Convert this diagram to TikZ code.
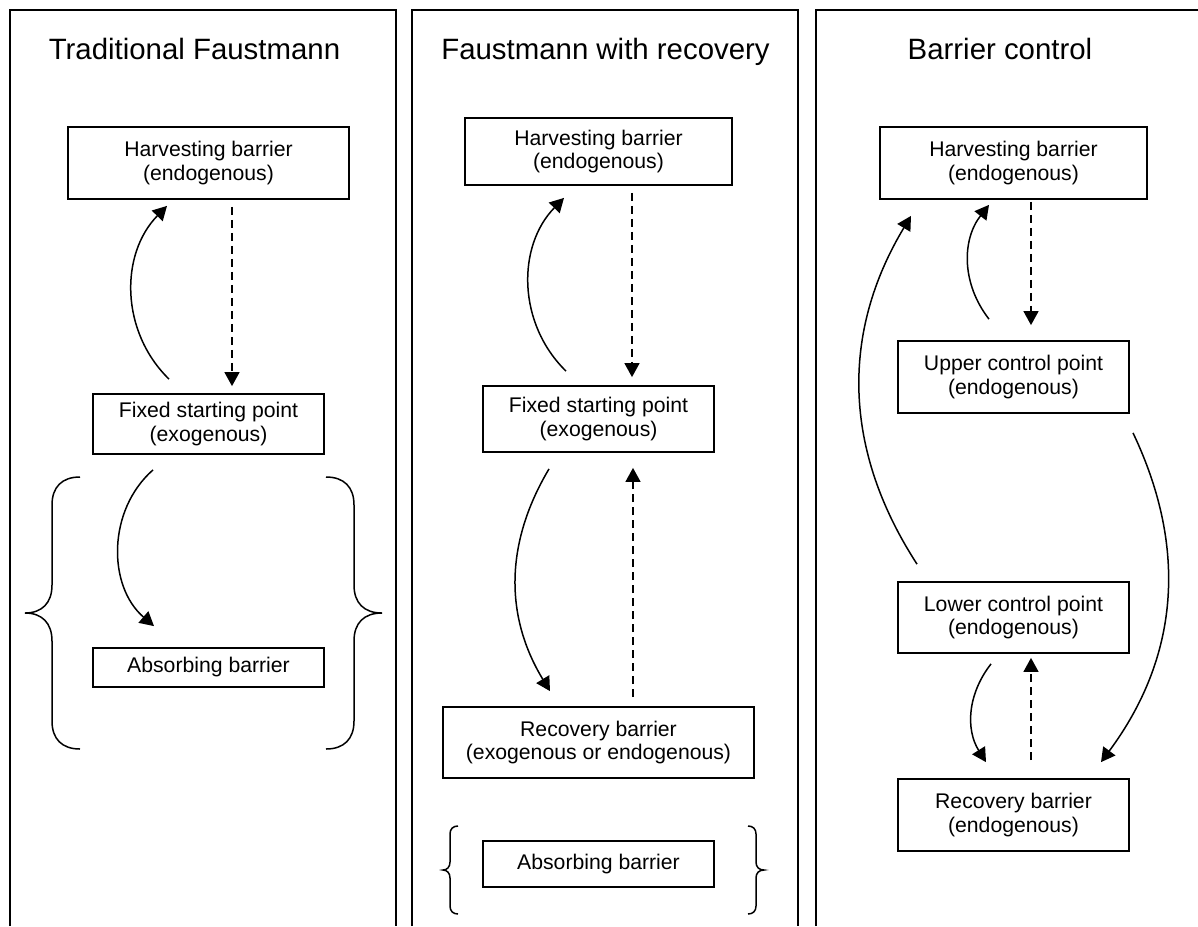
\documentclass[tikz,border=0pt]{standalone}
\usepackage{fontspec}
\setmainfont{Liberation Sans}
\usetikzlibrary{arrows.meta}

\begin{document}
\begin{tikzpicture}[x=0.5pt,y=-0.5pt,>={Triangle[length=7pt,width=7.5pt]},
  barrier node/.style={draw,line width=0.9pt,inner sep=0pt,align=center,
    font=\fontsize{10.6}{11.8}\selectfont},
  title node/.style={anchor=base,font=\fontsize{14.7}{17}\selectfont},
  panel line/.style={line width=1pt},
  brace line/.style={line width=0.75pt},
  flow/.style={->,line width=0.75pt},
  jump/.style={->,line width=0.75pt,dash pattern=on 4pt off 2.5pt}]

  \useasboundingbox (0,0) rectangle (1198,926);

  % panels
  \draw[panel line] (10,926) -- (10,10) -- (396,10) -- (396,926);
  \draw[panel line] (412,926) -- (412,10) -- (798,10) -- (798,926);
  \draw[panel line] (816,926) -- (816,10) -- (1200,10);

  \node[title node] (t1) at (194.5,59) {Traditional Faustmann};
  \node[title node] (t2) at (605.5,59) {Faustmann with recovery};
  \node[title node] (t3) at (1000,59) {Barrier control};

  % traditional Faustmann
  \node[barrier node,minimum width=140.5pt,minimum height=36pt] (h1) at (208.5,163) {Harvesting barrier\\(endogenous)};
  \node[barrier node,minimum width=115.5pt,minimum height=30pt] (f1) at (208.5,424) {Fixed starting point\\(exogenous)};
  \node[barrier node,minimum width=115.5pt,minimum height=19.5pt] (a1) at (208.5,667.5) {Absorbing barrier};

  \draw[flow] ([shift={(-39.5,-14)}]f1.north) to[bend left=45] ([shift={(-41.5,6)}]h1.south);
  \draw[jump] ([shift={(23.5,7)}]h1.south) -- ([shift={(23.5,-7)}]f1.north);
  \draw[flow] ([shift={(-55.5,15)}]f1.south) to[bend right=49] ([shift={(-54.5,-21)}]a1.north);

  \draw[brace line] (80,477) .. controls (62,477) and (52,487) .. (52,505) -- (52,585)
    .. controls (52,603) and (42,613) .. (25,613) .. controls (42,613) and (52,623) .. (52,641)
    -- (52,721) .. controls (52,739) and (62,749) .. (80,749);
  \draw[brace line] (326,477) .. controls (344,477) and (354,487) .. (354,505) -- (354,585)
    .. controls (354,603) and (364,613) .. (382,613) .. controls (364,613) and (354,623) .. (354,641)
    -- (354,721) .. controls (354,739) and (344,749) .. (326,749);

  % Faustmann with recovery
  \node[barrier node,minimum width=133.5pt,minimum height=33.5pt] (h2) at (598.5,151.5) {Harvesting barrier\\(endogenous)};
  \node[barrier node,minimum width=115.5pt,minimum height=33pt] (f2) at (598.5,419) {Fixed starting point\\(exogenous)};
  \node[barrier node,minimum width=155.5pt,minimum height=35.5pt] (r2) at (598.5,742.5) {Recovery barrier\\(exogenous or endogenous)};
  \node[barrier node,minimum width=115.5pt,minimum height=23pt] (a2) at (598.5,864) {Absorbing barrier};

  \draw[flow] ([shift={(-32.5,-14)}]f2.north) to[bend left=45] ([shift={(-34.5,12)}]h2.south);
  \draw[jump] ([shift={(33.5,7)}]h2.south) -- ([shift={(33.5,-8)}]f2.north);
  \draw[flow] ([shift={(-49.5,16)}]f2.south) to[bend right=31] ([shift={(-48.5,-15)}]r2.north);
  \draw[jump] ([shift={(34.5,-9)}]r2.north) -- ([shift={(34.5,15)}]f2.south);

  \draw[brace line] (458,826) .. controls (453,826) and (450,829) .. (450,834) -- (450,862)
    .. controls (450,867) and (447,870) .. (443,870) .. controls (447,870) and (450,873) .. (450,878)
    -- (450,906) .. controls (450,911) and (453,914) .. (458,914);
  \draw[brace line] (748,826) .. controls (753,826) and (756,829) .. (756,834) -- (756,862)
    .. controls (756,867) and (759,870) .. (764,870) .. controls (759,870) and (756,873) .. (756,878)
    -- (756,906) .. controls (756,911) and (753,914) .. (748,914);

  % barrier control
  \node[barrier node,minimum width=133.5pt,minimum height=36pt] (h3) at (1013.5,163) {Harvesting barrier\\(endogenous)};
  \node[barrier node,minimum width=115.5pt,minimum height=36pt] (u3) at (1013.5,377) {Upper control point\\(endogenous)};
  \node[barrier node,minimum width=115.5pt,minimum height=35.5pt] (l3) at (1013.5,617.5) {Lower control point\\(endogenous)};
  \node[barrier node,minimum width=115.5pt,minimum height=36pt] (r3) at (1013.5,815) {Recovery barrier\\(endogenous)};

  \draw[flow] ([shift={(-24.5,-21)}]u3.north) to[bend left=38] ([shift={(-24.5,5)}]h3.south);
  \draw[jump] ([shift={(17.5,2)}]h3.south) -- ([shift={(17.5,-15)}]u3.north);
  \draw[flow] ([shift={(-96.5,-17)}]l3.north) to[bend left=32] ([shift={(-102.5,16)}]h3.south);
  \draw[flow] ([shift={(119.5,19)}]u3.south) to[bend left=31] ([shift={(87.5,-16)}]r3.north);
  \draw[flow] ([shift={(-22.5,10)}]l3.south) to[bend right=35] ([shift={(-27.5,-16)}]r3.north);
  \draw[jump] ([shift={(17.5,-18)}]r3.north) -- ([shift={(17.5,4)}]l3.south);
\end{tikzpicture}
\end{document}
